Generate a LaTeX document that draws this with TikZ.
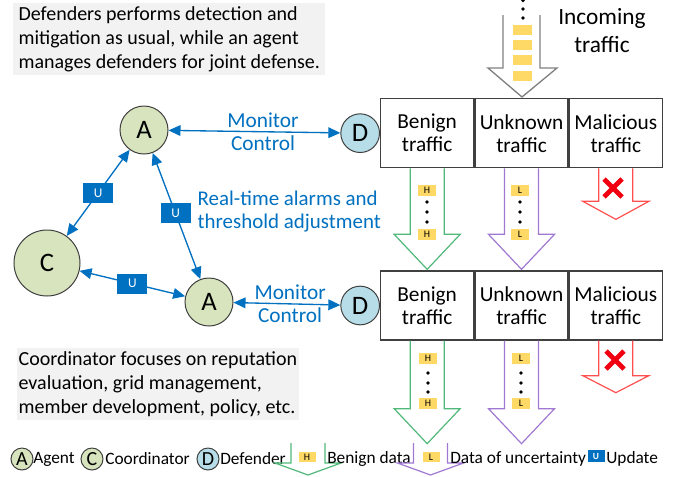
\documentclass[tikz,border=0pt]{standalone}
\usepackage{fontspec}
\setmainfont{Carlito}
\usetikzlibrary{positioning,arrows.meta}
\definecolor{linkblue}{HTML}{0070C0}
\definecolor{outline}{HTML}{404040}
\definecolor{agentfill}{HTML}{D7E4BD}
\definecolor{deffill}{HTML}{B7DEE8}
\definecolor{tagyellow}{HTML}{FFD966}
\definecolor{notegray}{HTML}{F2F2F2}
\definecolor{benigngreen}{HTML}{50B878}
\definecolor{unknownpurple}{HTML}{A078D2}
\definecolor{dropred}{HTML}{FF5050}
\definecolor{crossred}{HTML}{F00010}
\newcommand{\flowarrow}[4]{\draw[#1] (#2) ++(-17,0) -- ++(0,#3) -- ++(-16,0) -- ++(33,#4) -- ++(33,-#4) -- ++(-16,0) -- ++(0,-#3);}
\begin{document}
\begin{tikzpicture}[x=0.75pt, y=-0.75pt,
    every node/.style={font=\fontsize{15}{18}\selectfont},
    member/.style={circle, draw=outline, line width=0.75pt, fill=agentfill, inner sep=0pt, font=\fontsize{20}{20}\selectfont},
    agent/.style={member, minimum size=36pt},
    coordinator/.style={member, minimum size=49.5pt},
    defender/.style={member, fill=deffill, minimum size=29pt},
    trafficbox/.style={draw=outline, line width=1pt, minimum width=69.75pt, minimum height=51.75pt, align=center, font=\fontsize{16}{17.25}\selectfont},
    link/.style={linkblue, line width=1pt, {Triangle[length=9pt,width=8pt]}-{Triangle[length=9pt,width=8pt]}},
    bluelabel/.style={text=linkblue, align=center, font=\fontsize{16}{17.25}\selectfont},
    upd/.style={fill=linkblue, text=white, minimum width=22.5pt, minimum height=15pt, inner sep=0pt, font=\fontsize{10}{10}\selectfont},
    tag/.style={fill=tagyellow, minimum width=13.5pt, minimum height=8.25pt, inner sep=0pt, font=\fontsize{7.5}{7.5}\selectfont},
    note/.style={fill=notegray, align=left, anchor=north west, inner ysep=2.5pt},
    legtext/.style={anchor=west, inner sep=0pt, font=\fontsize{13}{13}\selectfont},
    legmember/.style={member, minimum size=16.5pt, font=\fontsize{15}{15}\selectfont},
    greenflow/.style={benigngreen, line width=0.9pt, line join=miter},
    purpleflow/.style={unknownpurple, line width=0.9pt, line join=miter},
    redflow/.style={dropred, line width=0.9pt, line join=miter},
    dot/.style={fill=black}]
  \useasboundingbox (0,0) rectangle (678,476);
  % notes
  \node[note, inner xsep=4pt] (topnote) at (13,3) {Defenders performs detection and\\mitigation as usual, while an agent\\manages defenders for joint defense.};
  \node[note, inner xsep=1pt] (botnote) at (17,348) {Coordinator focuses on reputation\\evaluation, grid management,\\member development, policy, etc.};
  % traffic boxes
  \node[trafficbox, anchor=north west] (tb1) at (380,98) {Benign\\traffic};
  \node[trafficbox, right=0pt of tb1] (tb2) {Unknown\\traffic};
  \node[trafficbox, right=0pt of tb2] (tb3) {Malicious\\traffic};
  \node[trafficbox, below=76.5pt of tb1] (bb1) {Benign\\traffic};
  \node[trafficbox, right=0pt of bb1] (bb2) {Unknown\\traffic};
  \node[trafficbox, right=0pt of bb2] (bb3) {Malicious\\traffic};
  % members
  \node[agent] (a1) at (144,130) {A};
  \node[agent] (a2) at (209,302) {A};
  \node[coordinator] (c1) at (47,263) {C};
  \node[defender, left=0pt of tb1] (d1) {D};
  \node[defender, left=0pt of bb1] (d2) {D};
  \draw[link] (a1) -- node[bluelabel, pos=0.55] (mc1) {Monitor\\Control} (d1);
  \draw[link] (a2) -- node[bluelabel, pos=0.53] (mc2) {Monitor\\Control} (d2);
  \draw[link] (a1) -- node[upd] (u1) {U} (c1);
  \draw[link] (a1) -- node[upd, pos=0.48] (u2) {U} (a2);
  \draw[link] (c1) -- node[upd] (u3) {U} (a2);
  \node[bluelabel, anchor=west, align=left, font=\fontsize{15.7}{17.25}\selectfont] (alarms) at (193,212) {Real-time alarms and\\threshold adjustment};
  % incoming traffic
  \foreach \y in {0.5,9,18} \fill[dot] (523,\y) circle (1.4pt);
  \draw[gray, line width=1pt, line join=miter] (503,15) -- (503,68) -- (488,68) -- (522,97) -- (557,68) -- (540,68) -- (540,15);
  \foreach \y in {30,45,60,76} \fill[tagyellow] (513,\y-5) rectangle (532,\y+5);
  \node[align=center, font=\fontsize{17.5}{21}\selectfont] (incoming) at (602,31) {Incoming\\traffic};
  % outgoing traffic
  \flowarrow{greenflow}{tb1.south}{66}{35}
  \flowarrow{purpleflow}{tb2.south}{66}{35}
  \flowarrow{redflow}{tb3.south}{33}{18}
  \flowarrow{greenflow}{bb1.south}{68}{35}
  \flowarrow{purpleflow}{bb2.south}{68}{35}
  \flowarrow{redflow}{bb3.south}{35}{17}
  \node[tag] (h1) at (427,190) {H};
  \node[tag] (h2) at (427,234) {H};
  \node[tag] (l1) at (520,190) {L};
  \node[tag] (l2) at (520,234) {L};
  \node[tag] (h3) at (428,358) {H};
  \node[tag] (h4) at (428,403) {H};
  \node[tag] (l3) at (521,358) {L};
  \node[tag] (l4) at (521,403) {L};
  \foreach \y in {202,212,222} {\fill[dot] (427,\y) circle (1.4pt); \fill[dot] (520,\y) circle (1.4pt);}
  \foreach \y in {373,383,392} {\fill[dot] (428,\y) circle (1.4pt); \fill[dot] (521,\y) circle (1.4pt);}
  \draw[crossred, line width=3.5pt] (604,179) -- (622,197) (604,197) -- (622,179);
  \draw[crossred, line width=3.5pt] (606,351) -- (624,369) (606,369) -- (624,351);
  % legend
  \node[legmember] (la) at (22,459) {A};
  \node[legtext] (lat) at (33,459) {Agent};
  \node[legmember] (lc) at (92,459) {C};
  \node[legtext] (lct) at (105,459) {Coordinator};
  \node[legmember, fill=deffill] (ld) at (208,459) {D};
  \node[legtext] (ldt) at (220,459) {Defender};
  \flowarrow{greenflow}{308,443}{20}{12}
  \node[tag, minimum width=12.75pt, minimum height=7.5pt] (lh) at (307,457) {H};
  \node[legtext] (lht) at (327,459) {Benign data};
  \flowarrow{purpleflow}{430.5,443}{20}{12}
  \node[tag, minimum width=12.75pt, minimum height=7.5pt] (ll) at (431,457) {L};
  \node[legtext] (llt) at (450,459) {Data of uncertainty};
  \node[upd, minimum width=12.75pt, minimum height=9pt, font=\fontsize{7}{7}\bfseries] (lu) at (596,456) {U};
  \node[legtext] (lut) at (606,459) {Update};
\end{tikzpicture}
\end{document}
